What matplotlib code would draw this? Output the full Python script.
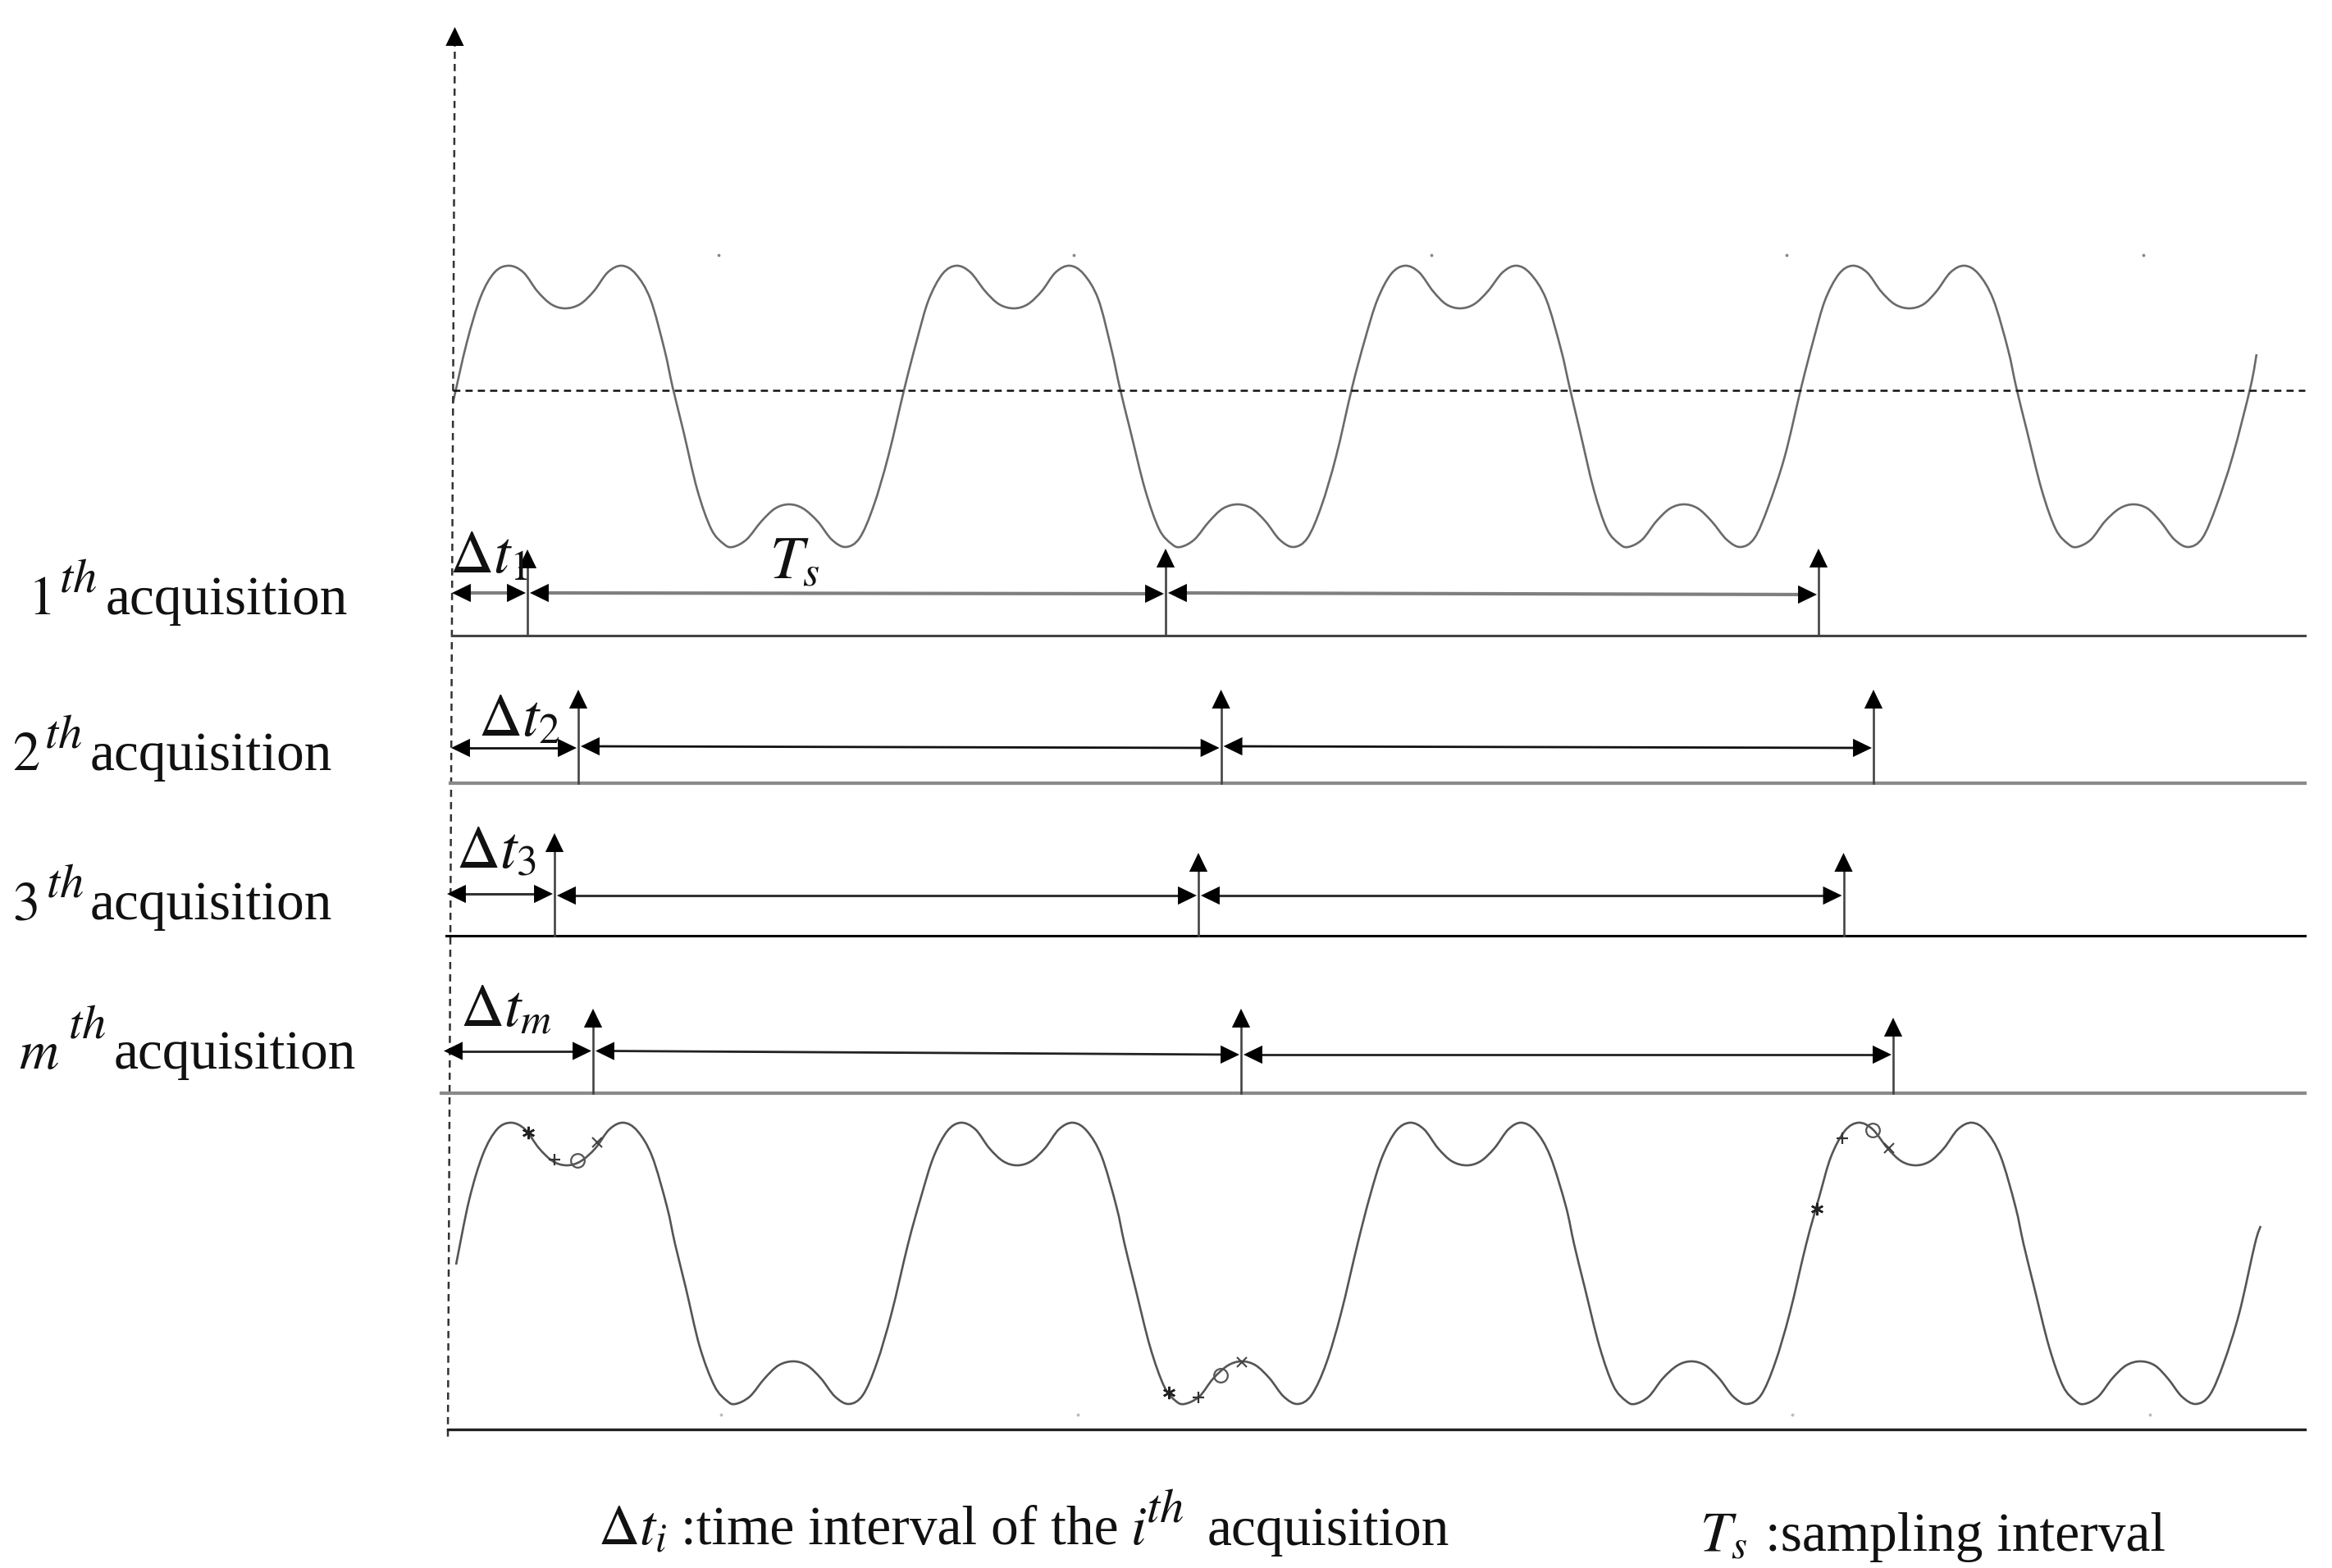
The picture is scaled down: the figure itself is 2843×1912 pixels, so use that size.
import matplotlib
matplotlib.use("Agg")
import matplotlib.pyplot as plt
from matplotlib.path import Path
from matplotlib.patches import PathPatch

plt.rcParams['font.family'] = ['Liberation Serif', 'DejaVu Serif']
plt.rcParams['mathtext.fontset'] = 'stix'

W, H = 2843, 1912

# upper waveform
top_x = [552,569,586,603,
 620.5,638,655,672,689,707,724,741,758,775,793,810,820,833,850,867,882,893,910,928,945,962,979,997,1014,1031,1048,1065,1083,1103,1118,1132,1149,
 1166,1183,1201,1218,1236,1253,1270,1287,1304,1321,1339,1355,1365,1378,1396,1413,1428,1439,1456,1474,1491,1509,1526,1543,1560,1577,1594,1611,1629,1648.5,1664,1679,1696,
 1713,1730,1747,1763,1780,1797,1814,1832,1849,1866,1885,1903,1913.5,1926,1943,1959,1974,1985,2002,2019,2036,2053,2070,2087,2105,2122,2139,2156,2176,2196,2211,2225,2242,
 2258.6,2276,2293,2310,2327.7,2345,2361,2378,2395,2412,2430,2448,2458,2471,2489,2506,2521,2532,2549,2566,2584,2601,2618,2634,2651,2668,2685,2702,2722,2743.6,2751]
top_y = [492,418,362,332,
 324,332,355,371,376,371,355,332,324,334,365,426,472,525,597,645,663,667,658,636,620,615,620,636,658,667,656,617,556,472,414,366,334,
 324,332,355,371,376,371,355,332,324,334,365,426,472,525,597,645,663,667,658,636,620,615,620,636,658,667,656,617,556,472,414,366,334,
 324,332,355,371,376,371,355,332,324,334,365,426,472,525,597,645,663,667,658,636,620,615,620,636,658,667,656,617,556,472,414,366,334,
 324,332,355,371,376,371,355,332,324,334,365,426,472,525,597,645,663,667,658,636,620,615,620,636,658,667,656,617,556,472,432]

# lower waveform
bot_x = [556,572,589,606,
 623,640,657,674,691,708,726,743,760,777,795,813,823,836,853,871,886,896.5,914,932,949,967,984,1001,1018,1035,1052,1069,1087,1107,1123,1138,1155,
 1171.6,1189,1206,1223,1240,1257,1274,1291,1308,1325,1343,1361,1371,1384,1402,1419,1433,1444,1462,1479,1497,1514,1531,1548,1565,1582,1599,1617,1635,1655,1670,1685,1702,
 1719,1736,1753,1770,1788,1805,1822,1839,1855,1872,1890,1909,1919,1932,1950,1967,1982,1993,2010,2027,2045,2062,2079,2096,2113,2130,2147,2164,2182,2202,2218,2232,2249,
 2266,2283,2301,2318,2335.5,2353,2370,2387,2404,2421,2439,2457,2467,2480,2498,2515,2530,2541,2558,2575,2592,2609.5,2627,2643,2660,2677,2694,2711,2730,2749,2756]
bot_y = [1542,1463,1407,1377,
 1369,1377,1400,1416,1421,1416,1400,1377,1369,1379,1410,1471,1517,1570,1642,1690,1708,1712,1703,1681,1665,1660,1665,1681,1703,1712,1701,1662,1601,1517,1459,1411,1379,
 1369,1377,1400,1416,1421,1416,1400,1377,1369,1379,1410,1471,1517,1570,1642,1690,1708,1712,1703,1681,1665,1660,1665,1681,1703,1712,1701,1662,1601,1517,1459,1411,1379,
 1369,1377,1400,1416,1421,1416,1400,1377,1369,1379,1410,1471,1517,1570,1642,1690,1708,1712,1703,1681,1665,1660,1665,1681,1703,1712,1701,1662,1601,1517,1459,1411,1379,
 1369,1377,1400,1416,1421,1416,1400,1377,1369,1379,1410,1471,1517,1570,1642,1690,1708,1712,1703,1681,1665,1660,1665,1681,1703,1712,1701,1662,1601,1517,1495]

# samples marked on the lower waveform
star_x = [644, 1425, 2215];  star_y = [1381, 1698, 1474]
plus_x = [675.5, 1461, 2245.5]; plus_y = [1414, 1704, 1388]
circ_x = [704, 1488, 2283];  circ_y = [1415, 1677, 1378]
cross_x = [728, 1514, 2303]; cross_y = [1392.5, 1661, 1399.5]

# acquisitions
acq_word = "acquisition"
acq_word_x = [129, 110, 110, 139]
acq_word_y = [749, 939, 1121, 1303]
acq_index = [r"$1$", r"$2$", r"$3$", r"$m$"]
acq_index_x = [34, 15, 15, 23]
acq_sup_x = [72, 54.5, 55.6, 83]
acq_sup_y = [722, 911, 1093, 1265]
dt_labels = [r"$\Delta t_1$", r"$\Delta t_2$", r"$\Delta t_3$", r"$\Delta t_m$"]
dt_x = [548, 583, 556, 561]
dt_y = [698, 897, 1059, 1251.6]
base_y = [775, 955, 1141, 1333]
base_x0 = [551, 549, 544, 538]
base_x1 = 2810
pulse_x = [[643, 1421, 2217], [705, 1488.6, 2284], [676, 1461, 2247.5], [723, 1513, 2308]]
pulse_tip = [[670, 669, 669], [841, 841, 841], [1016, 1040, 1040], [1230, 1230, 1241]]
span_x0 = [551, 550, 545, 541]
span_y = [[(723, 723), (723, 724), (723, 725)],
          [(912, 912), (910, 912), (910, 912)],
          [(1090, 1090), (1092, 1092), (1092, 1092)],
          [(1281.5, 1281.5), (1281.5, 1286), (1286, 1286)]]
base_col = ['#444444', '#8a8a8a', '#000000', '#8a8a8a']
base_lw = [2.2, 3.0, 2.2, 3.0]
span_col = ['#808080', '#111111', '#333333', '#222222']
span_lw = [3.0, 2.0, 2.2, 2.0]

# small specks
dot_x_top = [876, 1309, 1745, 2178, 2613]
dot_x_bot = [879, 1314, 2185, 2621]
dot_y_top = 311
dot_y_bot = 1725

mid_y = 475.5
mid_x = (552, 2810)
axis_x = (554.5, 546)
axis_y = (33, 1755)
floor_y = 1743
floor_x = (546, 2810)

fig = plt.figure(figsize=(W / 100, H / 100), dpi=100, facecolor='white')
ax = fig.add_axes([0, 0, 1, 1])
ax.set_xlim(0, W)
ax.set_ylim(H, 0)
ax.axis('off')


def smooth(xs, ys, **kw):
    pts = list(zip(xs, ys))
    verts = [pts[0]]
    codes = [Path.MOVETO]
    n = len(pts)
    for i in range(n - 1):
        p0 = pts[max(i - 1, 0)]
        p1 = pts[i]
        p2 = pts[i + 1]
        p3 = pts[min(i + 2, n - 1)]
        c1 = (p1[0] + (p2[0] - p0[0]) / 6, p1[1] + (p2[1] - p0[1]) / 6)
        c2 = (p2[0] - (p3[0] - p1[0]) / 6, p2[1] - (p3[1] - p1[1]) / 6)
        verts += [c1, c2, p2]
        codes += [Path.CURVE4] * 3
    ax.add_patch(PathPatch(Path(verts, codes), fill=False, **kw))


def heads(x0, y0, x1, y1, style):
    ax.annotate('', xy=(x1, y1), xytext=(x0, y0), zorder=4,
                arrowprops=dict(arrowstyle=f'{style},head_length=16.5,head_width=8',
                                mutation_scale=1, shrinkA=0, shrinkB=0,
                                color='black', lw=0.01, joinstyle='miter'))


def say(x, y, s, size=48.5, z=5):
    ax.text(x, y, s, fontsize=size, va='baseline', ha='left', color='#111111', zorder=z)


smooth(top_x, top_y, edgecolor='#6a6a6a', lw=1.9, zorder=2)
smooth(bot_x, bot_y, edgecolor='#555555', lw=1.9, zorder=2)

dash = (0, (3.5, 2.5))
heads(axis_x[1], axis_y[1], axis_x[0], axis_y[0], '-|>')
ax.plot(axis_x, (axis_y[0] + 15, axis_y[1]), color='#333333', lw=1.8, ls=dash, zorder=2)
ax.plot(mid_x, (mid_y, mid_y), color='#111111', lw=1.8, ls=dash, zorder=2)
ax.plot(floor_x, (floor_y, floor_y), color='#222222', lw=2.4, zorder=2)

ax.plot(star_x, star_y, ls='none', marker=(6, 2, 0), ms=11, mec='#222222', mew=1.8, zorder=4)
ax.plot(plus_x, plus_y, ls='none', marker='+', ms=10, mec='#333333', mew=1.6, zorder=4)
ax.plot(circ_x, circ_y, ls='none', marker='o', ms=12, mfc='none', mec='#555555', mew=1.6, zorder=4)
ax.plot(cross_x, cross_y, ls='none', marker='x', ms=8, mec='#444444', mew=1.5, zorder=4)

ax.plot(dot_x_top, [dot_y_top] * len(dot_x_top), ls='none', marker='.', ms=3.5, color='#888888')
ax.plot(dot_x_bot, [dot_y_bot] * len(dot_x_bot), ls='none', marker='.', ms=3.5, color='#bbbbbb')

for i in range(4):
    ax.plot((base_x0[i], base_x1), (base_y[i], base_y[i]), color=base_col[i], lw=base_lw[i], zorder=2)
    for px, tip in zip(pulse_x[i], pulse_tip[i]):
        ax.plot((px, px), (base_y[i], tip + 18), color='#444444', lw=1.9, zorder=3)
        heads(px, tip + 24, px, tip, '-|>')
    ends = [span_x0[i]] + pulse_x[i]
    for j in range(3):
        left = ends[j] + (3 if j else 0)
        right = ends[j + 1] - 2
        ya, yb = span_y[i][j]
        ax.plot((left + 12, right - 12), (ya, yb), color=span_col[i], lw=span_lw[i], zorder=3)
        heads(left, ya, right, yb, '<|-|>')
    say(acq_index_x[i], acq_word_y[i], acq_index[i], 48)
    say(acq_sup_x[i], acq_sup_y[i], r"$th$", 42)
    say(acq_word_x[i], acq_word_y[i], acq_word)
    say(dt_x[i], dt_y[i], dt_labels[i], 53)

say(938, 705.6, r"$T_s$", 53)
say(729, 1883.5, r"$\Delta t_i$", 50)
say(830, 1883.5, ":time interval of the")
say(1378, 1883.5, r"$i$", 48.5)
say(1397, 1856, r"$th$", 42)
say(1472, 1883.5, acq_word)
say(2072, 1891, r"$T_s$", 50)
say(2152, 1891, ":sampling interval")

fig.savefig('out.png', dpi=100, facecolor='white')
